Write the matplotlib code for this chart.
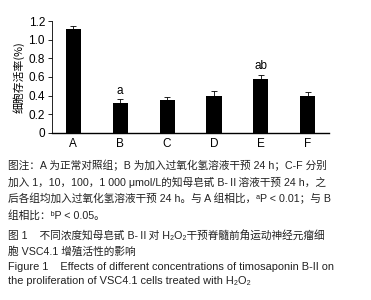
import numpy as np
import matplotlib
matplotlib.use("Agg")
import matplotlib.pyplot as plt

plt.rcParams['font.family'] = ['Liberation Sans', 'Noto Sans CJK SC', 'DejaVu Sans']

groups = ["A", "B", "C", "D", "E", "F"]
survival = [1.11, 0.32, 0.355, 0.40, 0.58, 0.40]
err_up = [0.04, 0.04, 0.035, 0.05, 0.04, 0.04]
marks = ["", "a", "", "", "ab", ""]
yticks = [0, 0.2, 0.4, 0.6, 0.8, 1.0, 1.2]
ytick_labels = ["0", "0.2", "0.4", "0.6", "0.8", "1.0", "1.2"]

caption_lines = [
    "图注：A 为正常对照组；B 为加入过氧化氢溶液干预 24 h；C-F 分别",
    "加入 1，10，100，1 000 μmol/L的知母皂甙 B-Ⅱ溶液干预 24 h，之",
    "后各组均加入过氧化氢溶液干预 24 h。与 A 组相比，ᵃP < 0.01；与 B",
    "组相比：ᵇP < 0.05。",
    "图 1    不同浓度知母皂甙 B-Ⅱ对 H₂O₂干预脊髓前角运动神经元瘤细",
    "胞 VSC4.1 增殖活性的影响",
    "Figure 1    Effects of different concentrations of timosaponin B-II on",
    "the proliferation of VSC4.1 cells treated with H₂O₂",
]
caption_sizes = [7.7, 7.7, 7.7, 7.7, 7.7, 7.7, 7.9, 7.9]

fig = plt.figure(figsize=(3.71, 3.00), dpi=100)
ax = fig.add_axes([0.140, 0.557, 0.747, 0.373])

x = np.arange(len(groups))
ax.bar(x, survival, width=0.32, color="black", zorder=2)
ax.errorbar(x, survival, yerr=[np.zeros(len(x)), err_up], fmt="none",
            ecolor="black", elinewidth=0.6, capsize=2.5, capthick=0.6, zorder=1)
for xi, v, e, m in zip(x, survival, err_up, marks):
    if m:
        ax.text(xi, v + e + 0.03, m, ha="center", va="bottom", fontsize=8.5)

ax.set_xlim(-0.45, 5.45)
ax.set_ylim(0, 1.2)
ax.set_xticks(x)
ax.set_xticklabels(groups, fontsize=8.5)
ax.set_yticks(yticks)
ax.set_yticklabels(ytick_labels, fontsize=8.5)
ax.tick_params(axis="x", length=0, pad=4)
ax.tick_params(axis="y", length=3, width=0.6, pad=2)
for s in ["top", "right"]:
    ax.spines[s].set_visible(False)
ax.spines["left"].set_linewidth(0.6)
ax.spines["bottom"].set_linewidth(1.0)
ax.set_ylabel("细胞存活率(%)", fontsize=7.8,
              family=['Noto Sans CJK SC', 'DejaVu Sans'])
ax.yaxis.set_label_coords(-0.097, 0.5)

cap_y = [165, 182, 198, 215, 236, 251, 267, 281]
for line, yy, fs in zip(caption_lines, cap_y, caption_sizes):
    fig.text(8 / 371, 1 - yy / 300, line, ha="left", va="center", fontsize=fs,
             color="#222222")

fig.savefig("out.png", dpi=100)
